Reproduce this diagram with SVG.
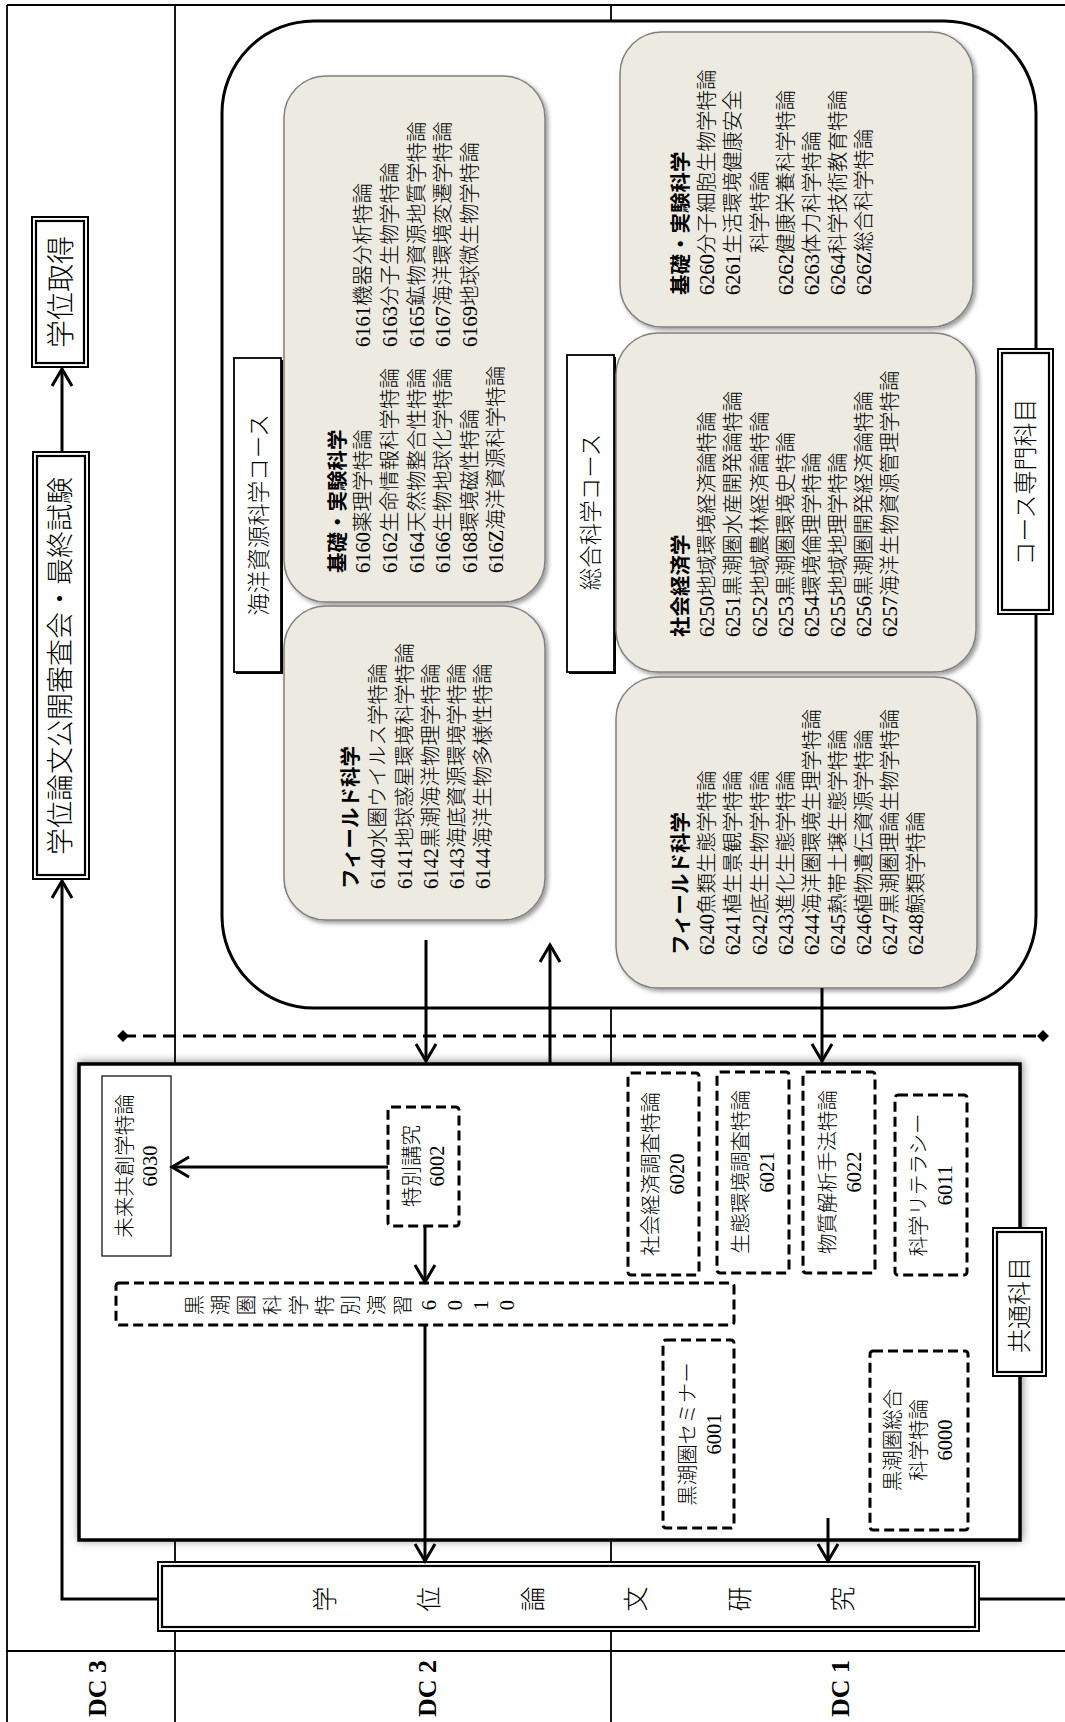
<svg xmlns="http://www.w3.org/2000/svg" width="1065" height="1722" viewBox="0 0 1065 1722">
<defs>
<style>
text{font-family:"Liberation Serif","Noto Sans CJK JP",serif;fill:#000;dominant-baseline:central;font-weight:300}
.s{font-size:20.5px}
.b{font-weight:bold}
.m{text-anchor:middle}
.frame{stroke:#000;stroke-width:1.8;fill:none}
.gray{fill:#ECEAE1;stroke:#808080;stroke-width:1.5;filter:url(#sh)}
.dash{fill:#fff;stroke:#000;stroke-width:3;stroke-dasharray:10 5}
.conn{stroke:#000;stroke-width:3;fill:none}
.arr{marker-end:url(#ah)}
.dbl{fill:#fff;stroke:#000;stroke-width:2}
.dbli{fill:none;stroke:#000;stroke-width:2.2}
.lbl{fill:#fff;stroke:#000;stroke-width:1.8}
</style>
<filter id="sh" x="-10%" y="-10%" width="125%" height="125%"><feDropShadow dx="2.5" dy="2.5" stdDeviation="2" flood-color="#000" flood-opacity="0.4"/></filter>
<filter id="sh2" x="-5%" y="-5%" width="110%" height="110%"><feDropShadow dx="1" dy="-1" stdDeviation="4" flood-color="#000" flood-opacity="0.45"/></filter>
<marker id="ah" markerUnits="userSpaceOnUse" markerWidth="22" markerHeight="24" refX="19" refY="12" orient="auto"><path d="M2,2 L19,12 L2,22" fill="none" stroke="#000" stroke-width="3"/></marker>
<marker id="dm" markerUnits="userSpaceOnUse" markerWidth="14" markerHeight="14" refX="7" refY="7" orient="auto"><path d="M1,7 L7,1 L13,7 L7,13Z" fill="#000"/></marker>
</defs>
<rect width="1065" height="1722" fill="#fff"/>

<g id="frame">
<line class="frame" x1="7" y1="5" x2="1065" y2="5"/>
<line class="frame" x1="7" y1="5" x2="7" y2="1722"/>
<line class="frame" x1="175" y1="5" x2="175" y2="1722"/>
<line class="frame" x1="611" y1="5" x2="611" y2="1722"/>
<line class="frame" x1="7" y1="1651" x2="1065" y2="1651"/>
<text class="b" font-size="26" transform="translate(97,1717) rotate(-90)">DC 3</text>
<text class="b" font-size="26" transform="translate(427,1717) rotate(-90)">DC 2</text>
<text class="b" font-size="26" transform="translate(840,1717) rotate(-90)">DC 1</text>
</g>

<g id="course-area">
<rect x="222" y="21" width="814" height="987" rx="92" fill="#fff" stroke="#000" stroke-width="3"/>
</g>

<g id="course-label-marine">
<rect x="236" y="360" width="47" height="314" fill="#000"/>
<rect class="lbl" x="234" y="358" width="47" height="314"/>
<text class="m" font-size="22.5" transform="translate(259,515) rotate(-90)">海洋資源科学コース</text>
</g>
<g id="course-label-general">
<rect x="569" y="357" width="47" height="317" fill="#000"/>
<rect class="lbl" x="567" y="355" width="47" height="317"/>
<text class="m" font-size="22.5" transform="translate(591,512) rotate(-90)">総合科学コース</text>
</g>

<g id="marine-basic">
<rect class="gray" x="284" y="76" width="261" height="526" rx="42"/>
<g class="s" transform="translate(0,573) rotate(-90)">
<text class="b" x="0" y="338">基礎・実験科学</text>
<text x="0" y="363">6160薬理学特論</text><text x="226" y="363">6161機器分析特論</text>
<text x="0" y="390">6162生命情報科学特論</text><text x="226" y="390">6163分子生物学特論</text>
<text x="0" y="417">6164天然物整合性特論</text><text x="226" y="417">6165鉱物資源地質学特論</text>
<text x="0" y="443">6166生物地球化学特論</text><text x="226" y="443">6167海洋環境変遷学特論</text>
<text x="0" y="470">6168環境磁性特論</text><text x="226" y="470">6169地球微生物学特論</text>
<text x="0" y="496">616Z海洋資源科学特論</text>
</g>
</g>

<g id="marine-field">
<rect class="gray" x="284" y="606" width="261" height="314" rx="42"/>
<g class="s" transform="translate(0,889) rotate(-90)">
<text class="b" x="0" y="351">フィールド科学</text>
<text x="0" y="378">6140水圏ウイルス学特論</text>
<text x="0" y="405">6141地球惑星環境科学特論</text>
<text x="0" y="431">6142黒潮海洋物理学特論</text>
<text x="0" y="457">6143海底資源環境学特論</text>
<text x="0" y="483">6144海洋生物多様性特論</text>
</g>
</g>

<g id="general-basic">
<rect class="gray" x="620" y="32" width="353" height="295" rx="42"/>
<g class="s" transform="translate(0,295) rotate(-90)">
<text class="b" x="0" y="681">基礎・実験科学</text>
<text x="0" y="707">6260分子細胞生物学特論</text>
<text x="0" y="733">6261生活環境健康安全</text>
<text x="42" y="760">科学特論</text>
<text x="0" y="786">6262健康栄養科学特論</text>
<text x="0" y="812">6263体力科学特論</text>
<text x="0" y="838">6264科学技術教育特論</text>
<text x="0" y="864">626Z総合科学特論</text>
</g>
</g>

<g id="general-socio">
<rect class="gray" x="616" y="333" width="360" height="339" rx="42"/>
<g class="s" transform="translate(0,637) rotate(-90)">
<text class="b" x="0" y="681">社会経済学</text>
<text x="0" y="707">6250地域環境経済論特論</text>
<text x="0" y="733">6251黒潮圏水産開発論特論</text>
<text x="0" y="760">6252地域農林経済論特論</text>
<text x="0" y="786">6253黒潮圏環境史特論</text>
<text x="0" y="812">6254環境倫理学特論</text>
<text x="0" y="838">6255地域地理学特論</text>
<text x="0" y="864">6256黒潮圏開発経済論特論</text>
<text x="0" y="890">6257海洋生物資源管理学特論</text>
</g>
</g>

<g id="general-field">
<rect class="gray" x="616" y="677" width="361" height="311" rx="42"/>
<g class="s" transform="translate(0,955) rotate(-90)">
<text class="b" x="0" y="681">フィールド科学</text>
<text x="0" y="707">6240魚類生態学特論</text>
<text x="0" y="733">6241植生景観学特論</text>
<text x="0" y="760">6242底生生物学特論</text>
<text x="0" y="786">6243進化生態学特論</text>
<text x="0" y="812">6244海洋圏環境生理学特論</text>
<text x="0" y="838">6245熱帯土壌生態学特論</text>
<text x="0" y="864">6246植物遺伝資源学特論</text>
<text x="0" y="890">6247黒潮圏理論生物学特論</text>
<text x="0" y="916">6248鯨類学特論</text>
</g>
</g>

<g id="course-subjects-label">
<rect class="dbl" x="998" y="349" width="55" height="265"/>
<rect class="dbli" x="1002" y="353" width="47" height="257"/>
<text class="m" font-size="24" transform="translate(1026,482) rotate(-90)">コース専門科目</text>
</g>

<g id="common-area">
<rect x="79" y="1064" width="941" height="476" fill="#fff" stroke="#000" stroke-width="3.5" filter="url(#sh2)"/>
</g>

<g id="n6030">
<rect x="102" y="1076" width="69" height="180" fill="#fff" stroke="#000" stroke-width="1.2"/>
<g class="s m" transform="translate(0,1166) rotate(-90)"><text x="0" y="125">未来共創学特論</text><text x="0" y="150">6030</text></g>
</g>
<g id="n6002">
<rect class="dash" x="388" y="1107" width="71" height="119" rx="3"/>
<g class="s m" transform="translate(0,1166) rotate(-90)"><text x="0" y="412">特別講究</text><text x="0" y="437">6002</text></g>
</g>
<g id="n6010">
<rect class="dash" x="116" y="1283" width="618" height="42" rx="3"/>
<g class="s m" transform="translate(0,1305) rotate(-90)">
<text x="0" y="195">黒</text><text x="0" y="221">潮</text><text x="0" y="247">圏</text><text x="0" y="273">科</text><text x="0" y="299">学</text><text x="0" y="325">特</text><text x="0" y="351">別</text><text x="0" y="377">演</text><text x="0" y="403">習</text><text x="0" y="429">6</text><text x="0" y="455">0</text><text x="0" y="481">1</text><text x="0" y="507">0</text>
</g>
</g>
<g id="n6020">
<rect class="dash" x="628" y="1073" width="71" height="202" rx="3"/>
<g class="s m" transform="translate(0,1174) rotate(-90)"><text x="0" y="651">社会経済調査特論</text><text x="0" y="677">6020</text></g>
</g>
<g id="n6021">
<rect class="dash" x="717" y="1072" width="72" height="201" rx="3"/>
<g class="s m" transform="translate(0,1172) rotate(-90)"><text x="0" y="741">生態環境調査特論</text><text x="0" y="767">6021</text></g>
</g>
<g id="n6022">
<rect class="dash" x="803" y="1072" width="72" height="201" rx="3"/>
<g class="s m" transform="translate(0,1172) rotate(-90)"><text x="0" y="828">物質解析手法特論</text><text x="0" y="854">6022</text></g>
</g>
<g id="n6011">
<rect class="dash" x="895" y="1095" width="72" height="180" rx="3"/>
<g class="s m" transform="translate(0,1185) rotate(-90)"><text x="0" y="919">科学リテラシー</text><text x="0" y="945">6011</text></g>
</g>
<g id="n6001">
<rect class="dash" x="663" y="1340" width="71" height="188" rx="3"/>
<g class="s m" transform="translate(0,1434) rotate(-90)"><text x="0" y="688">黒潮圏セミナー</text><text x="0" y="714">6001</text></g>
</g>
<g id="n6000">
<rect class="dash" x="870" y="1351" width="98" height="179" rx="3"/>
<g class="s m" transform="translate(0,1440) rotate(-90)"><text x="0" y="893">黒潮圏総合</text><text x="0" y="919">科学特論</text><text x="0" y="945">6000</text></g>
</g>

<g id="common-label">
<rect class="dbl" x="993" y="1228" width="53" height="148"/>
<rect class="dbli" x="997" y="1232" width="45" height="140"/>
<text class="m" font-size="24" transform="translate(1020,1305) rotate(-90)">共通科目</text>
</g>

<g id="thesis">
<rect class="dbl" x="158" y="1562" width="821" height="69"/>
<rect class="dbli" x="162" y="1566" width="813" height="61" stroke-width="2.8"/>
<g font-size="25" class="m" transform="translate(0,1599) rotate(-90)">
<text x="0" y="325">学</text><text x="0" y="429">位</text><text x="0" y="533">論</text><text x="0" y="636">文</text><text x="0" y="740">研</text><text x="0" y="843">究</text>
</g>
</g>

<g id="defense">
<rect class="dbl" x="33" y="452" width="56" height="427"/>
<rect class="dbli" x="37" y="456" width="48" height="419"/>
<text class="m" font-size="27" transform="translate(61,666) rotate(-90)">学位論文公開審査会・最終試験</text>
</g>

<g id="degree">
<rect class="dbl" x="32" y="217" width="56" height="150"/>
<rect class="dbli" x="36" y="221" width="48" height="142"/>
<text class="m" font-size="28" transform="translate(61,292) rotate(-90)">学位取得</text>
</g>

<g id="connectors">
<line class="conn arr" x1="62" y1="452" x2="62" y2="369"/>
<polyline class="conn arr" points="158,1599 62,1599 62,881"/>
<line class="conn" x1="979" y1="1599" x2="1065" y2="1599"/>
<line class="conn arr" x1="426" y1="940" x2="426" y2="1061"/>
<line class="conn arr" x1="550" y1="1063" x2="550" y2="945"/>
<line class="conn arr" x1="822" y1="988" x2="822" y2="1061"/>
<line class="conn arr" x1="388" y1="1167" x2="172" y2="1167"/>
<line class="conn arr" x1="425" y1="1226" x2="425" y2="1282"/>
<line class="conn arr" x1="425" y1="1325" x2="425" y2="1561"/>
<line class="conn arr" x1="828" y1="1518" x2="828" y2="1561"/>
<line x1="123" y1="1036" x2="1043" y2="1036" stroke="#000" stroke-width="3" stroke-dasharray="13 7" marker-start="url(#dm)" marker-end="url(#dm)"/>
</g>
</svg>
